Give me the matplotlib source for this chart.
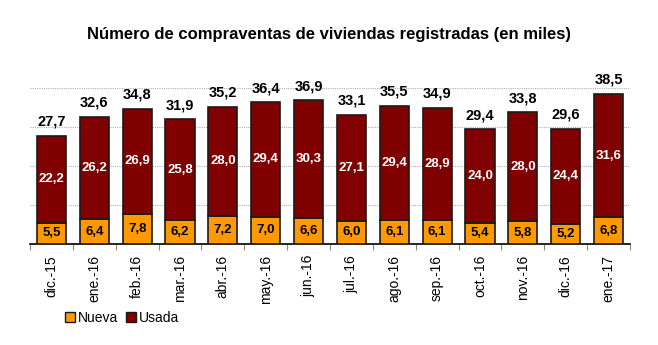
import matplotlib
matplotlib.use("Agg")
import matplotlib.pyplot as plt
import numpy as np
from matplotlib.patches import Patch

plt.rcParams['font.family'] = ['Liberation Sans', 'DejaVu Sans']

categories = ["dic.-15", "ene.-16", "feb.-16", "mar.-16", "abr.-16", "may.-16", "jun.-16",
              "jul.-16", "ago.-16", "sep.-16", "oct.-16", "nov.-16", "dic.-16", "ene.-17"]
nueva = [5.5, 6.4, 7.8, 6.2, 7.2, 7.0, 6.6, 6.0, 6.1, 6.1, 5.4, 5.8, 5.2, 6.8]
usada = [22.2, 26.2, 26.9, 25.8, 28.0, 29.4, 30.3, 27.1, 29.4, 28.9, 24.0, 28.0, 24.4, 31.6]
total = [27.7, 32.6, 34.8, 31.9, 35.2, 36.4, 36.9, 33.1, 35.5, 34.9, 29.4, 33.8, 29.6, 38.5]

def fmt(v):
    return f"{v:.1f}".replace(".", ",")

fig = plt.figure(figsize=(6.58, 3.45), dpi=100)
ax = fig.add_axes([30/658, 1-244/345, 600/658, 156/345])

x = np.arange(len(categories))
c_new = "#FF9900"
c_used = "#800000"
ax.bar(x, nueva, width=0.68, color=c_new, edgecolor="#1a1a1a", linewidth=1.2, zorder=3)
ax.bar(x, usada, bottom=nueva, width=0.68, color=c_used, edgecolor="#1a1a1a", linewidth=1.2, zorder=3)

for i in range(len(categories)):
    ax.text(x[i], nueva[i]/2, fmt(nueva[i]), ha="center", va="center", fontsize=9.5,
            fontweight="bold", color="black", zorder=4)
    ax.text(x[i], nueva[i] + usada[i]/2, fmt(usada[i]), ha="center", va="center", fontsize=9.5,
            fontweight="bold", color="white", zorder=4)
    ax.text(x[i], total[i] + 1.8, fmt(total[i]), ha="center", va="bottom", fontsize=10.5,
            fontweight="bold", color="black", zorder=4, clip_on=False)

ax.set_xlim(-0.5, len(categories) - 0.5)
ax.set_ylim(0, 40)
ax.set_yticks([10, 20, 30, 40])
ax.yaxis.grid(True, color="#b0b0b0", linestyle=(0, (1, 1)), linewidth=0.8, zorder=0)
ax.tick_params(axis="y", left=False, labelleft=False)
for s in ["top", "right", "left"]:
    ax.spines[s].set_visible(False)
ax.spines["bottom"].set_linewidth(1.2)

ax.set_xticks(x)
ax.set_xticklabels(categories, rotation=90, fontsize=10)
ax.tick_params(axis="x", length=0, pad=8)
ax.set_xticks(np.arange(len(categories) + 1) - 0.5, minor=True)
ax.tick_params(axis="x", which="minor", length=4, color="#888888", width=0.8)

fig.text(0.5, 1 - 35/345, "Número de compraventas de viviendas registradas (en miles)",
         ha="center", va="center", fontsize=12, fontweight="bold")

handles = [Patch(facecolor=c_new, edgecolor="#1a1a1a", label="Nueva"),
           Patch(facecolor=c_used, edgecolor="#1a1a1a", label="Usada")]
fig.legend(handles=handles, loc="center left", bbox_to_anchor=(58/658, 1 - 318/345),
           ncol=2, frameon=False, fontsize=10, handlelength=0.7, handleheight=0.7,
           handletextpad=0.2, columnspacing=0.6, borderpad=0)

fig.savefig("out.png", dpi=100)
